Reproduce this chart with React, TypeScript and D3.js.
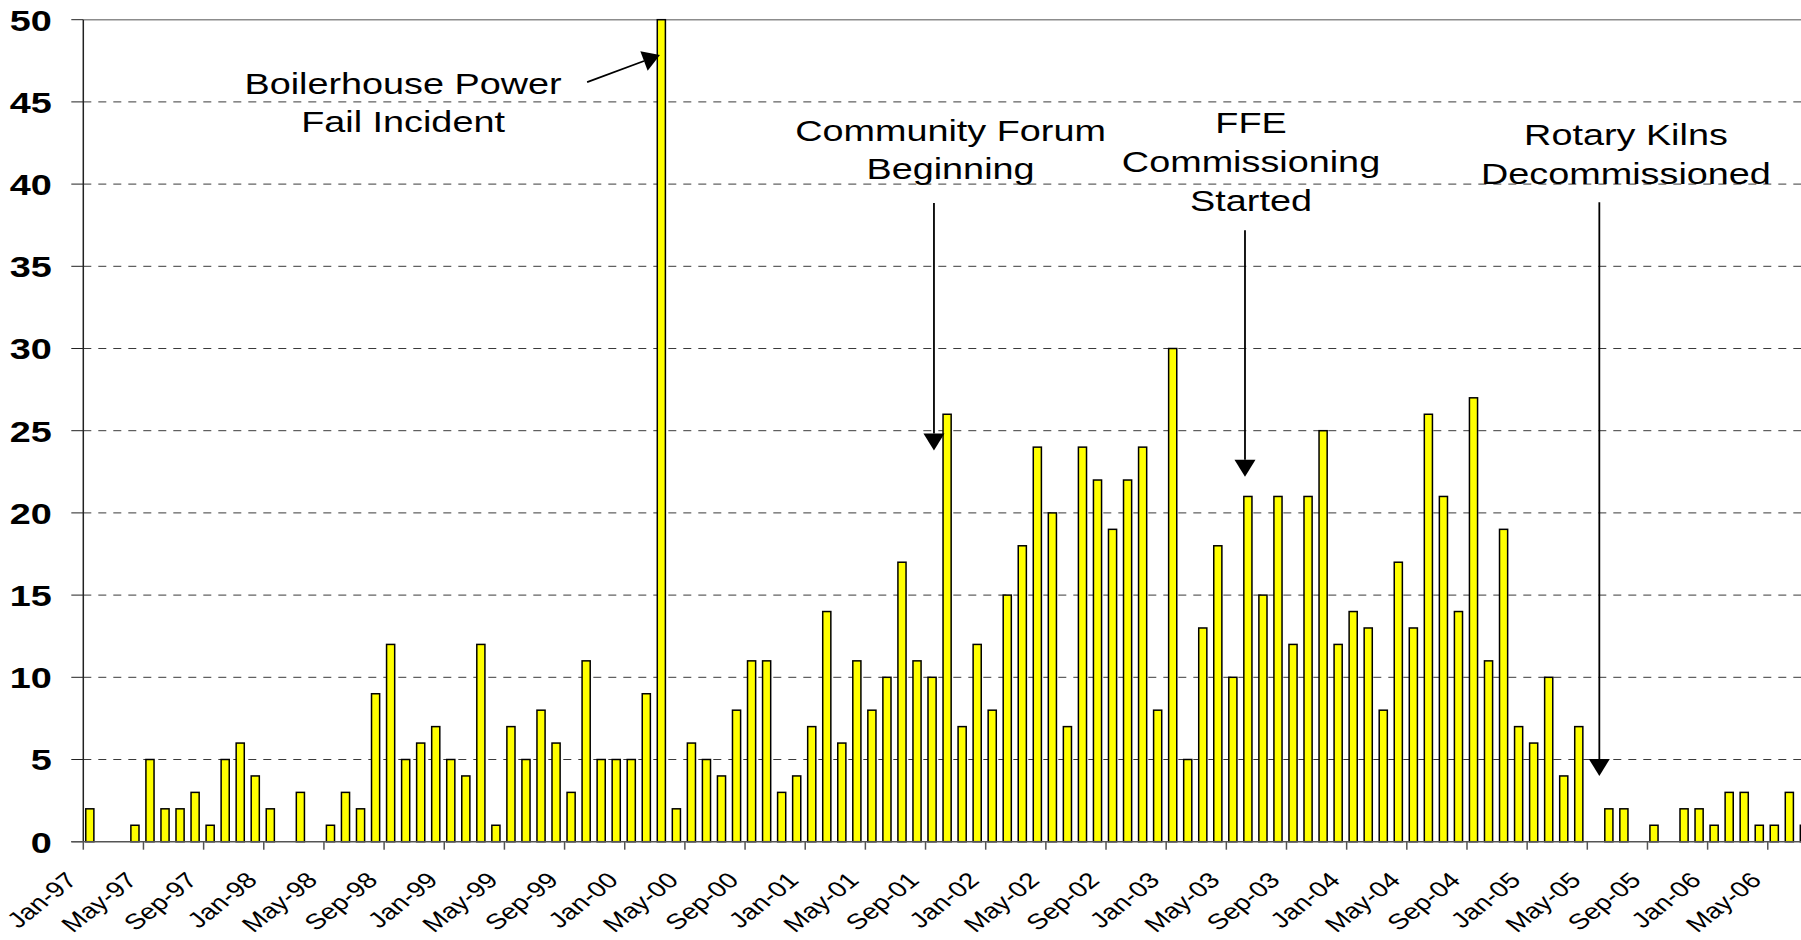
import React from "react";
import * as d3 from "d3";

// monthly incident counts, Jan-97 .. Jul-06 (the last one is cut off at the right edge)
const incidents = [
  2, 0, 0, 1, 5, 2, 2, 3, 1, 5, 6, 4, // 1997
  2, 0, 3, 0, 1, 3, 2, 9, 12, 5, 6, 7, // 1998
  5, 4, 12, 1, 7, 5, 8, 6, 3, 11, 5, 5, // 1999
  5, 9, 50, 2, 6, 5, 4, 8, 11, 11, 3, 4, // 2000
  7, 14, 6, 11, 8, 10, 17, 11, 10, 26, 7, 12, // 2001
  8, 15, 18, 24, 20, 7, 24, 22, 19, 22, 24, 8, // 2002
  30, 5, 13, 18, 10, 21, 15, 21, 12, 21, 25, 12, // 2003
  14, 13, 8, 17, 13, 26, 21, 14, 27, 11, 19, 7, // 2004
  6, 10, 4, 7, 0, 2, 2, 0, 1, 0, 2, 2, // 2005
  1, 3, 3, 1, 1, 3, 1, // 2006
];

const tickLabels = [
  "Jan-97", "May-97", "Sep-97", "Jan-98", "May-98", "Sep-98", "Jan-99", "May-99", "Sep-99",
  "Jan-00", "May-00", "Sep-00", "Jan-01", "May-01", "Sep-01", "Jan-02", "May-02", "Sep-02",
  "Jan-03", "May-03", "Sep-03", "Jan-04", "May-04", "Sep-04", "Jan-05", "May-05", "Sep-05",
  "Jan-06", "May-06",
];

const yTicks = [0, 5, 10, 15, 20, 25, 30, 35, 40, 45, 50];

// callouts, placed in month-index / value units
const annotations = [
  { lines: ["Boilerhouse Power", "Fail Incident"], at: 21.26, top: 45.5, from: [33.5, 46.2], to: [38.34, 47.85] },
  { lines: ["Community Forum", "Beginning"], at: 57.66, top: 42.65, from: [56.56, 38.85], to: [56.56, 23.8] },
  { lines: ["FFE", "Commissioning", "Started"], at: 77.64, top: 43.1, from: [77.24, 37.2], to: [77.24, 22.2] },
  { lines: ["Rotary Kilns", "Decommissioned"], at: 102.57, top: 42.35, from: [100.8, 38.9], to: [100.8, 4.0] },
];

const W = 1801;
const H = 940;
const FONT = "'Liberation Sans', Arial, sans-serif";
const STRETCH = 1.26; // the original picture is widened horizontally

const start = new Date(1997, 0, 1);
const months = d3.timeMonth.range(start, d3.timeMonth.offset(start, incidents.length));
const fmt = d3.timeFormat("%b-%y");
const monthNames = months.map(fmt);

export default function App() {
  const x0 = 83.3;
  const step = 15.04;
  const axisY = 841.7;

  const x = d3
    .scaleBand<string>()
    .domain(monthNames)
    .range([x0, x0 + step * monthNames.length])
    .paddingInner(0.46)
    .paddingOuter(0.23);

  const y = d3.scaleLinear().domain([0, 50]).range([axisY, 19.7]);

  const xAt = (i: number) => x.range()[0] + i * x.step();
  const edge = x.range()[1];

  return (
    <svg width={W} height={H} style={{ display: "block", background: "white" }} fontFamily={FONT}>
      <style>{"body{margin:0}"}</style>

      {/* gridlines */}
      {yTicks.map((t) =>
        t === 0 ? null : (
          <line
            key={`g-${t}`}
            x1={x0}
            x2={edge}
            y1={y(t)}
            y2={y(t)}
            stroke={t === 50 ? "#8c8c8c" : "#3a3a3a"}
            strokeWidth={t === 50 ? 1.5 : 1}
            strokeDasharray={t === 50 ? undefined : "8,7"}
          />
        )
      )}

      {/* bars */}
      {incidents.map((v, i) =>
        v > 0 ? (
          <rect
            key={`b-${i}`}
            x={(x(monthNames[i]) as number) - 1}
            y={y(v)}
            width={x.bandwidth()}
            height={axisY - y(v)}
            fill="#ffff00"
            stroke="#000"
            strokeWidth={1.5}
          />
        ) : null
      )}

      {/* y axis */}
      <line x1={x0} x2={x0} y1={y(50)} y2={axisY} stroke="#222" strokeWidth={1.5} />
      {yTicks.map((t) => (
        <g key={`yt-${t}`}>
          <line x1={x0 - 12} x2={x0} y1={y(t)} y2={y(t)} stroke="#222" strokeWidth={1} />
          <text
            transform={`translate(51.7,${y(t) + 10.8}) scale(${STRETCH},1)`}
            textAnchor="end"
            fontSize={30}
            fontWeight="bold"
            fill="#000"
          >
            {t}
          </text>
        </g>
      ))}

      {/* x axis */}
      <line x1={x0 - 12} x2={edge} y1={axisY} y2={axisY} stroke="#555" strokeWidth={1.5} />
      {tickLabels.map((lab) => {
        const i = monthNames.indexOf(lab);
        const bx = xAt(i);
        return (
          <g key={`xt-${lab}`}>
            <line x1={bx} x2={bx} y1={axisY} y2={axisY + 8} stroke="#555" strokeWidth={1.5} />
            <text
              transform={`translate(${bx - 5},${axisY + 40}) scale(${STRETCH},1) rotate(-45)`}
              textAnchor="end"
              fontSize={22}
              fill="#000"
            >
              {lab}
            </text>
          </g>
        );
      })}

      {/* annotations */}
      {annotations.map((a, k) => {
        const tx = xAt(a.at);
        const ty = y(a.top);
        const [fx, fy] = [xAt(a.from[0]), y(a.from[1])];
        const [px, py] = [xAt(a.to[0]), y(a.to[1])];
        const len = Math.hypot(px - fx, py - fy);
        const ux = (px - fx) / len;
        const uy = (py - fy) / len;
        const headL = 17;
        const headW = 10.5;
        const bx = px - ux * headL;
        const by = py - uy * headL;
        const head = `M${px},${py}L${bx - uy * headW},${by + ux * headW}L${bx + uy * headW},${by - ux * headW}Z`;
        return (
          <g key={`an-${k}`}>
            {a.lines.map((ln, j) => (
              <text
                key={j}
                transform={`translate(${tx},${ty + j * 38.7}) scale(${STRETCH},1)`}
                textAnchor="middle"
                fontSize={30}
                fill="#000"
              >
                {ln}
              </text>
            ))}
            <line x1={fx} y1={fy} x2={bx} y2={by} stroke="#000" strokeWidth={1.8} />
            <path d={head} fill="#000" />
          </g>
        );
      })}
    </svg>
  );
}
